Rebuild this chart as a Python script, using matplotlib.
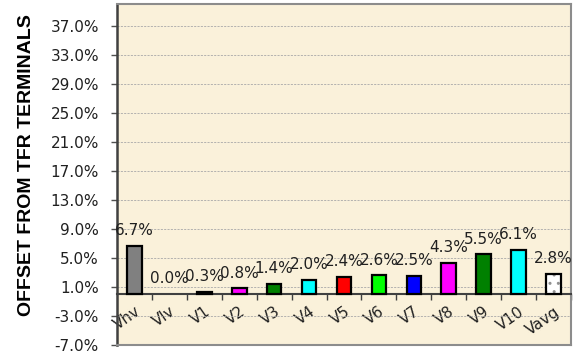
import numpy as np
import matplotlib
matplotlib.use("Agg")
import matplotlib.pyplot as plt

# Offsets from TFR terminals per voltage tap (%)
categories = ["Vhv", "Vlv", "V1", "V2", "V3", "V4", "V5", "V6", "V7", "V8", "V9", "V10", "Vavg"]
offsets = [6.7, 0.0, 0.3, 0.8, 1.4, 2.0, 2.4, 2.6, 2.5, 4.3, 5.5, 6.1, 2.8]
bar_colors = ["#808080", "#808080", "#000080", "#ff00ff", "#008000", "#00ffff",
              "#ff0000", "#00ff00", "#0000ff", "#ff00ff", "#008000", "#00ffff", "#ffffff"]
y_ticks = [-7, -3, 1, 5, 9, 13, 17, 21, 25, 29, 33, 37]

plt.rcParams["font.family"] = ["DejaVu Sans"]

W, H = 584, 352
fig = plt.figure(figsize=(W / 100, H / 100), dpi=100)
fig.patch.set_facecolor("white")
ax = fig.add_axes([117 / W, 7 / H, (571 - 117) / W, (345 - 4) / H])
ax.set_facecolor("#faf1da")

x = np.arange(len(categories))
is_avg = [c == "Vavg" for c in categories]

for xi, val, col, avg in zip(x, offsets, bar_colors, is_avg):
    if avg:
        # dotted white fill for the average bar
        ax.bar(xi, val, width=0.42, color="white", edgecolor="#909090",
               hatch="..", linewidth=0, zorder=3)
        ax.bar(xi, val, width=0.42, color="none", edgecolor="black",
               linewidth=1.6, zorder=4)
    elif val > 0:
        ax.bar(xi, val, width=0.42, color=col, edgecolor="black",
               linewidth=1.6, zorder=3)
    ax.annotate(f"{val:.1f}%", (xi, val), xytext=(0, 11), textcoords="offset points",
                ha="center", va="center", fontsize=11, color="#202020", zorder=5)

ax.set_xlim(-0.5, len(categories) - 0.5)
ax.set_ylim(-7, 40)

# y axis
ax.set_yticks(y_ticks)
ax.set_yticklabels([f"{v:.1f}%" for v in y_ticks], fontsize=11, color="#202020")
ax.tick_params(axis="y", direction="out", length=4, width=1, color="#505050", pad=9)
ax.yaxis.grid(True, linestyle=(0, (2.5, 1.5)), linewidth=0.6, color="#a8a8a8", zorder=1)
ax.set_axisbelow(True)

# category axis sits at zero
ax.spines["bottom"].set_position(("data", 0))
ax.spines["bottom"].set_color("#404040")
ax.spines["bottom"].set_linewidth(1.5)
ax.set_xticks(np.arange(0.5, len(categories), 1.0))
ax.set_xticklabels([])
ax.set_xticks(x, minor=True)
ax.set_xticklabels(categories, minor=True, fontsize=11, color="#202020")
ax.tick_params(axis="x", which="major", direction="out", length=4, width=1, color="#404040")
ax.tick_params(axis="x", which="minor", length=0, pad=7)
for lbl in ax.get_xticklabels(minor=True):
    lbl.set_rotation(35)
    lbl.set_ha("right")
    lbl.set_va("top")
    lbl.set_rotation_mode("anchor")

# plot area frame
ax.spines["left"].set_color("#404040")
ax.spines["left"].set_linewidth(1.8)
for s in ("top", "right"):
    ax.spines[s].set_color("#8c8c8c")
    ax.spines[s].set_linewidth(1.5)
ax.plot([0, 1], [0, 0], transform=ax.transAxes, color="#8c8c8c", linewidth=1.5,
        clip_on=False, zorder=6)

fig.text(27 / W, 1 - 165 / H, "OFFSET FROM TFR TERMINALS", rotation=90,
         ha="center", va="center", fontsize=14, fontweight="bold",
         family=["Liberation Sans"], color="black")

fig.savefig("out.png", dpi=100, facecolor="white")
